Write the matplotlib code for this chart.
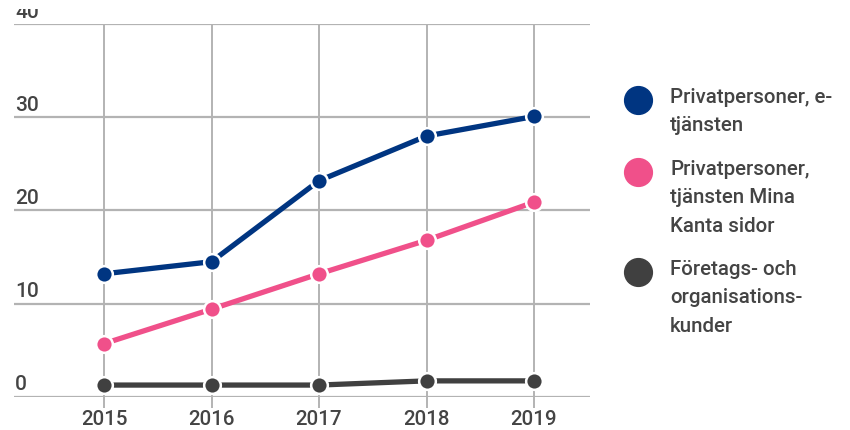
import matplotlib
matplotlib.use("Agg")
import matplotlib.pyplot as plt
from matplotlib.lines import Line2D
from matplotlib.transforms import Bbox, TransformedBbox

years = [2015, 2016, 2017, 2018, 2019]
e_tjansten = [13.2, 14.5, 23.2, 28.0, 30.1]
mina_kanta = [5.7, 9.4, 13.2, 16.8, 20.9]
foretag = [1.25, 1.25, 1.25, 1.7, 1.7]
series_labels = ["Privatpersoner, e-\ntjänsten",
                 "Privatpersoner,\ntjänsten Mina\nKanta sidor",
                 "Företags- och\norganisations-\nkunder"]
colors = ["#003581", "#f0508a", "#404040"]
yticks = [0, 10, 20, 30, 40]

plt.rcParams['font.family'] = ['Roboto', 'DejaVu Sans']
W, H = 850, 430
fig = plt.figure(figsize=(8.5, 4.3), dpi=100)
ax = fig.add_axes([14 / W, 1 - 396.7 / H, (590 - 14) / W, (396.7 - 24.3) / H])
ax.set_xlim(2015 - 90 / 107.5, 2019 + 56 / 107.5)
ax.set_ylim(0, 40)
for s in ax.spines.values():
    s.set_visible(False)

grid_c = "#b3b3b3"
txt_c = "#444444"
for y in yticks:
    ax.axhline(y, color=grid_c, lw=1.6, zorder=1)
ax.set_xticks(years)
ax.set_xticklabels([str(y) for y in years], fontsize=14.8, color=txt_c,
                   fontweight='medium')
ax.xaxis.grid(True, color=grid_c, lw=1.4, zorder=1)
ax.tick_params(axis='x', length=8, width=1.4, color=grid_c, pad=1.5)
ax.set_yticks([])

# the top of the canvas cuts the upper part of the highest label
clip = TransformedBbox(Bbox([[0, 0], [1, 1 - 9 / H]]), fig.transFigure)
for y in yticks:
    t = ax.text(0.002, y + 0.3, str(y), transform=ax.get_yaxis_transform(),
                ha='left', va='bottom', fontsize=15, color=txt_c, fontweight='medium')
    t.set_clip_box(clip)
    t.set_clip_on(True)

for vals, c in zip([e_tjansten, mina_kanta, foretag], colors):
    ax.plot(years, vals, color=c, lw=3.8, marker='o', markersize=12,
            markeredgecolor='white', markeredgewidth=1.8, zorder=3, clip_on=False)

leg_y = [100, 172, 272]
for lab, c, yy in zip(series_labels, colors, leg_y):
    fig.add_artist(Line2D([638 / W], [1 - yy / H], marker='o', markersize=20,
                          color=c, linestyle='none', transform=fig.transFigure))
    fig.text(670 / W, 1 - (yy - 12) / H, lab, ha='left', va='top', fontsize=14.8,
             color=txt_c, linespacing=1.63, fontweight='medium')

fig.savefig("out.png", dpi=100)
